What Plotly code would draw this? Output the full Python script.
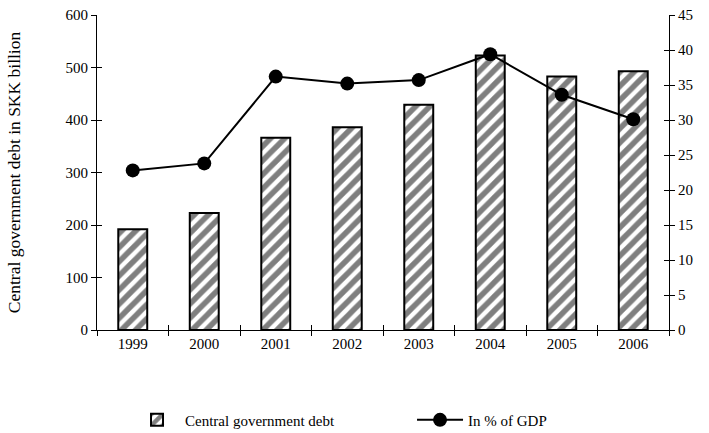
import plotly.graph_objects as go

years = ["1999", "2000", "2001", "2002", "2003", "2004", "2005", "2006"]
debt_skk_bn = [192, 223, 366, 386, 429, 523, 483, 493]
debt_pct_gdp = [22.8, 23.8, 36.2, 35.2, 35.7, 39.4, 33.6, 30.1]

left_ticks = [0, 100, 200, 300, 400, 500, 600]
right_ticks = [0, 5, 10, 15, 20, 25, 30, 35, 40, 45]

FONT = "Liberation Serif"

fig = go.Figure()

fig.add_trace(go.Bar(
    x=years, y=debt_skk_bn, name="Central government debt",
    marker=dict(color="white", line=dict(color="black", width=2),
                pattern=dict(shape="/", fgcolor="black", bgcolor="white",
                             size=10, solidity=0.55)),
    yaxis="y", xaxis="x",
))

fig.add_trace(go.Scatter(
    x=years, y=debt_pct_gdp, name="In % of GDP", mode="lines+markers",
    line=dict(color="black", width=2),
    marker=dict(color="black", size=14),
    yaxis="y2", xaxis="x",
))

# invisible helpers so the inward-tick overlay axes get drawn
fig.add_trace(go.Scatter(x=years, y=[None] * len(years), xaxis="x2", yaxis="y3",
                         showlegend=False, hoverinfo="skip"))
fig.add_trace(go.Scatter(x=years, y=[None] * len(years), xaxis="x2", yaxis="y4",
                         showlegend=False, hoverinfo="skip"))

tick_font = dict(family=FONT, size=15, color="black")

fig.update_layout(
    width=709, height=433,
    margin=dict(l=97, r=40, t=15, b=103, autoexpand=False),
    paper_bgcolor="white", plot_bgcolor="white",
    font=dict(family=FONT, size=15, color="black"),
    bargap=0.595,
    showlegend=True,
    legend=dict(orientation="h", x=0.056, xanchor="left", y=-0.286, yanchor="middle",
                font=dict(family=FONT, size=15, color="black"),
                entrywidth=222, itemwidth=46, traceorder="normal"),
    xaxis=dict(type="category", showline=True, linecolor="black", linewidth=1,
               ticks="outside", ticklen=5, tickcolor="black", tickson="boundaries",
               tickfont=tick_font, showgrid=False, zeroline=False,
               anchor="y", range=[-0.5, 7.5]),
    xaxis2=dict(type="category", overlaying="x", anchor="y", side="bottom",
                ticks="inside", ticklen=5, tickcolor="black", tickson="boundaries",
                showticklabels=False, showline=False, showgrid=False, zeroline=False,
                range=[-0.5, 7.5]),
    yaxis=dict(range=[0, 600], tickvals=left_ticks, showline=True, linecolor="black",
               linewidth=1, ticks="outside", ticklen=5, tickcolor="black",
               tickfont=tick_font, showgrid=False, zeroline=False,
               title=dict(text="Central government debt in SKK billion",
                          font=dict(family=FONT, size=17.5, color="black"), standoff=40)),
    yaxis2=dict(range=[0, 45], tickvals=right_ticks, overlaying="y", side="right",
                anchor="x", showline=True, linecolor="black", linewidth=1,
                ticks="outside", ticklen=5, tickcolor="black", tickfont=tick_font,
                showgrid=False, zeroline=False),
    yaxis3=dict(range=[0, 600], tickvals=left_ticks, overlaying="y", side="left",
                anchor="x2", ticks="inside", ticklen=5, tickcolor="black",
                showticklabels=False, showgrid=False, zeroline=False, showline=False),
    yaxis4=dict(range=[0, 45], tickvals=right_ticks, overlaying="y", side="right",
                anchor="x2", ticks="inside", ticklen=5, tickcolor="black",
                showticklabels=False, showgrid=False, zeroline=False, showline=False),
)

fig.write_html("out.html")
